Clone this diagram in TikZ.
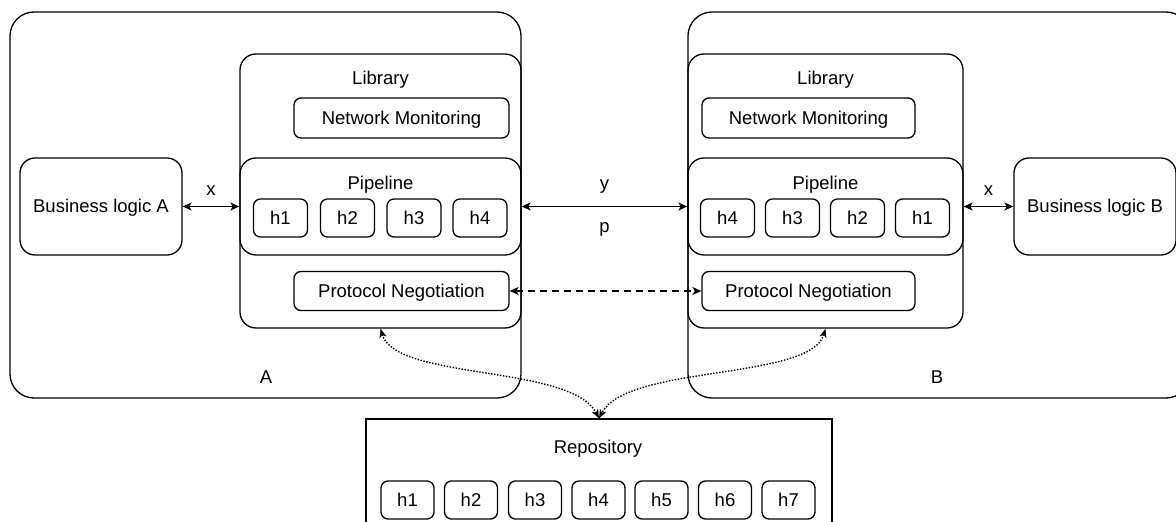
\documentclass[tikz,border=0pt]{standalone}
\usepackage{fontspec}
\setmainfont{Liberation Sans}
\usetikzlibrary{arrows.meta}

\tikzset{
  every node/.style={font=\fontsize{18.5}{22}\selectfont, inner sep=0pt,
    text height=16.7pt, text depth=3.9pt},
  frame/.style={draw, line width=1.3pt, rounded corners=#1},
  frame/.default=7pt,
  handler/.style={frame=7pt, minimum width=54pt, minimum height=38pt},
  link/.style={line width=1.3pt, {Stealth[length=9pt,width=8pt,inset=2.5pt]}-{Stealth[length=9pt,width=8pt,inset=2.5pt]}},
  dashlink/.style={link, dash pattern=on 7pt off 5pt},
  dotlink/.style={line width=1.4pt, dash pattern=on 1.4pt off 1.6pt,
    {Stealth[length=9pt,width=7pt,inset=2.5pt]}-{Stealth[length=9pt,width=7pt,inset=2.5pt]}},
  plain/.style={}
}

\begin{document}
\begin{tikzpicture}[x=1pt,y=-1pt]
\useasboundingbox (0,0) rectangle (1176,522);

% ---------- peer A ----------
\node[frame=24pt, minimum width=511pt, minimum height=386pt] (outerA) at (265.5,205) {};
\node[plain] (labelA) at (266,376.6) {A};
\node[frame=15pt, minimum width=162pt, minimum height=97pt] (blA) at (101,206.5) {Business logic A};
\node[frame=16pt, minimum width=281pt, minimum height=274pt] (libA) at (380.5,191) {};
\node[plain] (libAt) at (380.5,77.6) {Library};
\node[frame=7pt, minimum width=215pt, minimum height=40pt] (nmA) at (401.5,118) {Network Monitoring};
\node[frame=16pt, minimum width=281pt, minimum height=97pt] (pipeA) at (380.5,206.5) {};
\node[plain] (pipeAt) at (380.5,182.8) {Pipeline};
\node[handler] (hA1) at (280.5,218) {h1};
\node[handler] (hA2) at (347.5,218) {h2};
\node[handler] (hA3) at (414,218) {h3};
\node[handler] (hA4) at (480,218) {h4};
\node[frame=7pt, minimum width=215pt, minimum height=39pt] (pnA) at (401.5,291) {Protocol Negotiation};

% ---------- peer B ----------
\node[frame=24pt, minimum width=502pt, minimum height=386pt] (outerB) at (939,205) {};
\node[plain] (labelB) at (937,376.6) {B};
\node[frame=15pt, minimum width=162pt, minimum height=97pt] (blB) at (1095,206.5) {Business logic B};
\node[frame=16pt, minimum width=275pt, minimum height=274pt] (libB) at (825.5,191) {};
\node[plain] (libBt) at (825.5,77.6) {Library};
\node[frame=7pt, minimum width=213pt, minimum height=40pt] (nmB) at (808.5,118) {Network Monitoring};
\node[frame=16pt, minimum width=275pt, minimum height=97pt] (pipeB) at (825.5,206.5) {};
\node[plain] (pipeBt) at (825.5,182.8) {Pipeline};
\node[handler] (hB4) at (727.5,218) {h4};
\node[handler] (hB3) at (792.5,218) {h3};
\node[handler] (hB2) at (857.5,218) {h2};
\node[handler] (hB1) at (922.5,218) {h1};
\node[frame=7pt, minimum width=213pt, minimum height=39pt] (pnB) at (808.5,291) {Protocol Negotiation};

% ---------- shared repository ----------
\node[draw, line width=1.3pt, minimum width=466pt, minimum height=121pt] (repo) at (599,479.5) {};
\node[plain] (repot) at (598,447.5) {Repository};
\node[handler, minimum width=53pt] (r1) at (407.5,500) {h1};
\node[handler, minimum width=53pt] (r2) at (471,500) {h2};
\node[handler, minimum width=53pt] (r3) at (535,500) {h3};
\node[handler, minimum width=53pt] (r4) at (598.5,500) {h4};
\node[handler, minimum width=53pt] (r5) at (661.5,500) {h5};
\node[handler, minimum width=53pt] (r6) at (725,500) {h6};
\node[handler, minimum width=53pt] (r7) at (788.5,500) {h7};

% ---------- connectors ----------
\draw[link] (blA.east) -- node[above=6.7pt] {x} (pipeA.west);
\draw[link] (pipeB.east) -- node[above=6.7pt] {x} (blB.west);
\draw[link] (pipeA.east) -- node[above=12.6pt] {y} node[below=8.8pt] {p} (pipeB.west);
\draw[dashlink] (pnA.east) -- (pnB.west);
\draw[dotlink] (libA.south) .. controls +(15,52) and +(-28,-54) .. (repo.north);
\draw[dotlink] (libB.south) .. controls +(-15,52) and +(28,-54) .. (repo.north);
\end{tikzpicture}
\end{document}
